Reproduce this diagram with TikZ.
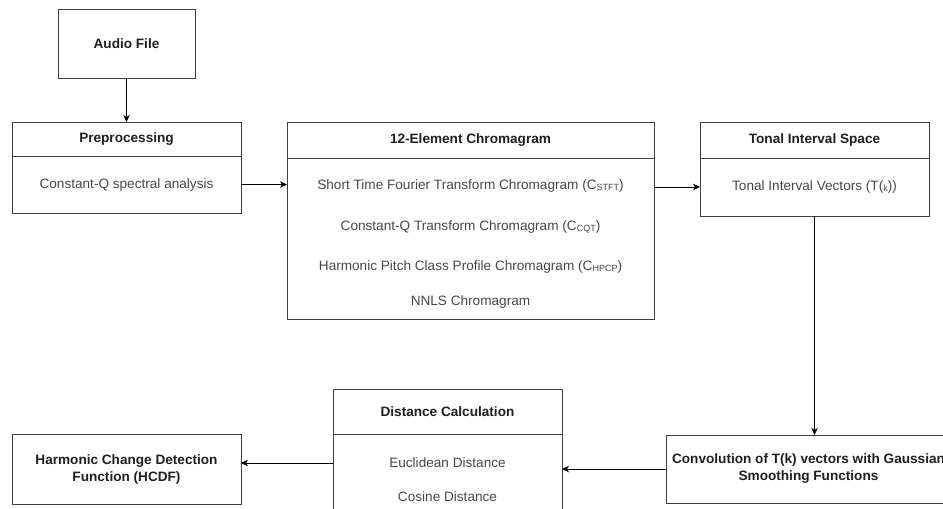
\documentclass[tikz,border=0pt]{standalone}
\usepackage{fontspec}
\setmainfont{Liberation Sans}
\usetikzlibrary{arrows.meta}
\newcommand\lowsub[1]{\raisebox{-1.3pt}{\fontsize{9}{9}\selectfont #1}}
\begin{document}
\begin{tikzpicture}[x=1pt,y=-1pt,
 box/.style={draw=black!75, line width=1pt, inner sep=0pt, outer sep=0pt, anchor=north west, align=center},
 ttl/.style={font=\fontsize{13.6}{17}\selectfont\bfseries, text=black!88},
 txt/.style={font=\fontsize{13.6}{17}\selectfont, text=black!72, inner sep=0pt},
 conn/.style={draw=black, line width=1pt, -{Stealth[length=7pt,width=6.5pt,inset=2pt]}}]
\useasboundingbox (0,0) rectangle (943,509);
\clip (0,0) rectangle (943,509);
% Audio File
\node[box, ttl, minimum width=137pt, minimum height=69pt] (audio) at (58,9) {Audio File};
% Preprocessing
\node[box, ttl, minimum width=229pt, minimum height=34pt] (prephd) at (12,122) {Preprocessing};
\node[box, minimum width=229pt, minimum height=57pt] (prepbd) at (12,156) {};
\node[txt] (preptx) at (prepbd.center) {Constant-Q spectral analysis};
% Chromagram
\node[box, ttl, minimum width=367pt, minimum height=36pt] (chromahd) at (287,122) {12-Element Chromagram};
\node[box, minimum width=367pt, minimum height=161pt] (chromabd) at (287,158) {};
\node[txt] (stft) at (470.5,186) {Short Time Fourier Transform Chromagram (C\lowsub{STFT})};
\node[txt] (cqt) at (470.5,227) {Constant-Q Transform Chromagram (C\lowsub{CQT})};
\node[txt] (hpcp) at (470.5,267) {Harmonic Pitch Class Profile Chromagram (C\lowsub{HPCP})};
\node[txt] (nnls) at (470.5,302) {NNLS Chromagram};
% Tonal Interval Space
\node[box, ttl, minimum width=229pt, minimum height=36pt] (tonalhd) at (700,122) {Tonal Interval Space};
\node[box, minimum width=229pt, minimum height=58pt] (tonalbd) at (700,158) {};
\node[txt] (tiv) at (tonalbd.center) {Tonal Interval Vectors (T(\lowsub{k}))};
% Convolution
\node[box, ttl, minimum width=285pt, minimum height=68pt] (conv) at (666,435) {Convolution of T(k) vectors with Gaussian\\Smoothing Functions};
% Distance Calculation
\node[box, ttl, minimum width=229pt, minimum height=45pt] (disthd) at (333,389) {Distance Calculation};
\node[box, minimum width=229pt, minimum height=110pt] (distbd) at (333,434) {};
\node[txt] (euc) at (447.5,463) {Euclidean Distance};
\node[txt] (cos) at (447.5,497) {Cosine Distance};
% HCDF
\node[box, ttl, minimum width=229pt, minimum height=70pt] (hcdf) at (12,434) {Harmonic Change Detection\\Function (HCDF)};
% connectors
\draw[conn] (audio.south) -- (prephd.north);
\draw[conn] (prepbd.east) -- (prepbd.east -| chromabd.west);
\draw[conn] (chromabd.east |- tonalbd.west) -- (tonalbd.west);
\draw[conn] (tonalbd.south) -- (tonalbd.south |- conv.north);
\draw[conn] (conv.west) -- (conv.west -| distbd.east);
\draw[conn] (euc.west -| distbd.west) -- (euc.west -| hcdf.east);
\end{tikzpicture}
\end{document}
